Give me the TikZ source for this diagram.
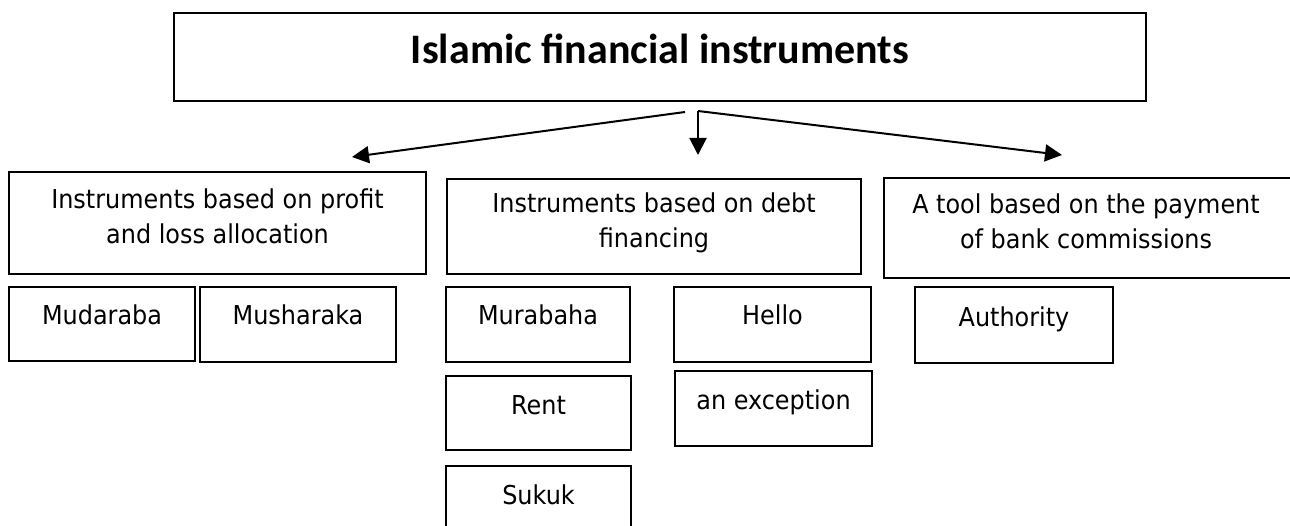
\documentclass[tikz,border=0pt]{standalone}
\usepackage{fontspec}
\setmainfont{DejaVu Sans}[FakeStretch=0.92]
\newfontfamily\titlefont{Carlito}
\usetikzlibrary{arrows.meta}
\begin{document}
\begin{tikzpicture}[x=1pt,y=-1pt,
  box/.style={draw=black,line width=1.9pt,inner sep=0pt,outer sep=0pt,anchor=north west,
    font=\fontsize{26}{35}\selectfont,align=center},
  arr/.style={line width=2pt,-{Triangle[length=17pt,width=17pt]}}]
\useasboundingbox (0,0) rectangle (1290,526);
\clip (0,0) rectangle (1290,526);
% top box
\node[box,minimum width=972pt,minimum height=88pt,text height=51pt,text depth=37pt,
  font=\titlefont\bfseries\fontsize{42}{50}\selectfont] (top) at (174,13) {Islamic financial instruments};
% level 2
\node[box,minimum width=417pt,minimum height=102pt,text height=72pt,text depth=30pt] (pl) at (9,172)
  {Instruments based on profit\\and loss allocation};
\node[box,minimum width=414pt,minimum height=95pt,text height=69pt,text depth=26pt] (debt) at (447,179)
  {Instruments based on debt\\financing};
\node[box,minimum width=420pt,minimum height=100pt,text height=71pt,text depth=29pt] (bank) at (884,178)
  {A tool based on the payment\hspace*{16pt}\\of bank commissions\hspace*{16pt}};
% level 3
\node[box,minimum width=186pt,minimum height=74pt,text height=38pt,text depth=36pt] (mud) at (9,287) {Mudaraba};
\node[box,minimum width=196pt,minimum height=75pt,text height=38pt,text depth=37pt] (mush) at (200,287) {Musharaka};
\node[box,minimum width=184pt,minimum height=75pt,text height=38pt,text depth=37pt] (mura) at (446,287) {Murabaha};
\node[box,minimum width=185pt,minimum height=74pt,text height=38pt,text depth=36pt] (rent) at (446,376) {Rent};
\node[box,minimum width=185pt,minimum height=80pt,text height=38pt,text depth=42pt] (sukuk) at (446,466) {Sukuk};
\node[box,minimum width=197pt,minimum height=75pt,text height=38pt,text depth=37pt] (hello) at (674,287) {Hello};
\node[box,minimum width=197pt,minimum height=75pt,text height=38pt,text depth=37pt] (exc) at (675,371) {an exception};
\node[box,minimum width=198pt,minimum height=76pt,text height=40pt,text depth=36pt] (auth) at (915,287) {Authority};
% connectors
\coordinate (o1) at (685,112);
\coordinate (o2) at (698,111);
\coordinate (t1) at (352,157);
\coordinate (t2) at (698,155);
\coordinate (t3) at (1062,155);
\draw[arr] (o1) -- (t1);
\draw[arr] (o2) -- (t2);
\draw[arr] (o2) -- (t3);
\end{tikzpicture}
\end{document}
